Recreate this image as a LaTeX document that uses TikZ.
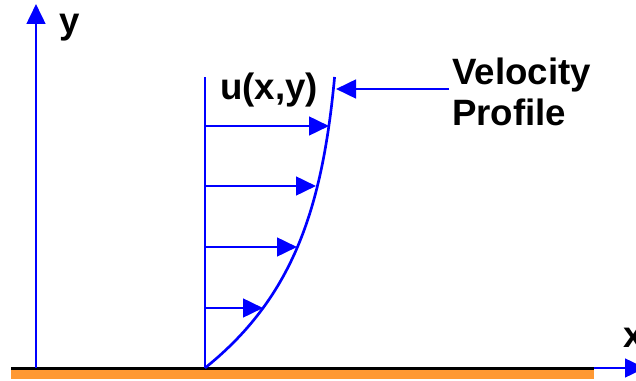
\documentclass[tikz,border=0pt]{standalone}
\usepackage{fontspec}
\setmainfont{Liberation Sans}
\usetikzlibrary{arrows.meta}
\definecolor{groundorange}{RGB}{255,153,51}
\tikzset{
  blueline/.style={draw=blue, line width=2pt},
  bluearrow/.style={blueline, -{Triangle[length=15pt,width=14pt]}},
  lbl/.style={font=\fontsize{27.5}{31}\selectfont\bfseries, inner sep=0pt}
}
\begin{document}
\begin{tikzpicture}[x=0.75pt,y=-0.75pt]
\useasboundingbox (0,0) rectangle (636,381);
\clip (0,0) rectangle (636,381);
% ground
\fill[groundorange] (11,370) rectangle (594,379);
\coordinate (o) at (36,368);
\coordinate (ytip) at (36,4);
\coordinate (gstart) at (594,368);
\coordinate (xtip) at (645,368);
\draw[bluearrow] (gstart) -- (xtip);
\draw[black, line width=2.4pt] (11,368.5) -- (594,368.5);
\draw[bluearrow] (o) -- (ytip);
\node[lbl] (ylab) at (70,28) {y};
\node[lbl] (xlab) at (634,338) {x};
% profile
\coordinate (p0) at (205,368);
\coordinate (ptop) at (205,77);
\draw[blueline] (p0) -- (ptop);
\draw[blueline, line join=round] plot[domain=0:291, samples=80, variable=\h]
  ({205+140*(1-exp(-\h/112))}, {368-\h});
\coordinate (c1) at (263,308);
\coordinate (c2) at (297,247);
\coordinate (c3) at (316,186);
\coordinate (c4) at (329,126);
\coordinate (s1) at (205,308);
\coordinate (s2) at (205,247);
\coordinate (s3) at (205,186);
\coordinate (s4) at (205,126);
\draw[bluearrow] (s1) -- (c1);
\draw[bluearrow] (s2) -- (c2);
\draw[bluearrow] (s3) -- (c3);
\draw[bluearrow] (s4) -- (c4);
\node[lbl] (ulab) at (269,90) {u(x,y)};
\node[lbl, anchor=west, align=left] (vlab) at (452,92) {Velocity\\Profile};
\coordinate (vstart) at (449,89);
\coordinate (vtip) at (336,89);
\draw[bluearrow] (vstart) -- (vtip);
\end{tikzpicture}
\end{document}
